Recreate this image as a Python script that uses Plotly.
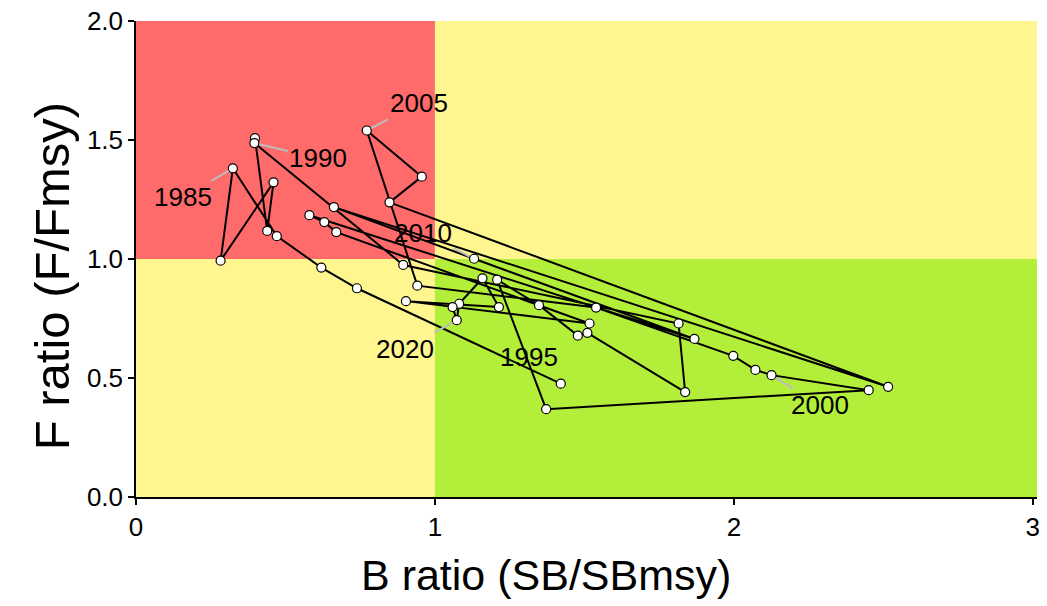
import plotly.graph_objects as go

# Stock status trajectory (Kobe plot), one point per year
years = list(range(1981, 2022))
b_ratio = [1.421, 0.739, 0.620, 0.471, 0.324, 0.283, 0.460, 0.439, 0.398, 0.396,
           0.894, 1.815, 1.837, 1.510, 1.478, 1.348, 1.208, 1.372, 2.451, 2.126,
           2.072, 1.998, 1.539, 0.941, 0.772, 0.956, 0.848, 2.516, 0.662, 1.131,
           1.868, 0.580, 0.630, 0.670, 1.517, 0.903, 1.214, 1.159, 1.081, 1.073,
           1.059]
f_ratio = [0.476, 0.877, 0.964, 1.096, 1.381, 0.993, 1.322, 1.118, 1.508, 1.487,
           0.975, 0.729, 0.441, 0.690, 0.678, 0.806, 0.913, 0.369, 0.449, 0.512,
           0.534, 0.593, 0.796, 0.888, 1.540, 1.346, 1.238, 0.463, 1.218, 1.001,
           0.664, 1.184, 1.155, 1.113, 0.729, 0.823, 0.798, 0.919, 0.812, 0.743,
           0.798]
label_years = [1985, 1990, 1995, 2000, 2005, 2010, 2020]

# label placement: pixel offset of text from its point, and whether a leader is drawn
label_offsets = {1985: (-50, 29), 1990: (64, 15), 1995: (-49, 21), 2000: (48, 30),
                 2005: (52, -27), 2010: (-51, -26), 2020: (-52, 29)}
no_leader = {1995}

X_MAX = 3.014
RED, YELLOW, GREEN = "#FF6A6A", "#FFF68F", "#B3EE3A"
FONT = "Liberation Sans, Arial"

fig = go.Figure()

zones = [
    (0, 1, 1, 2, RED),
    (1, X_MAX, 1, 2, YELLOW),
    (0, 1, 0, 1, YELLOW),
    (1, X_MAX, 0, 1, GREEN),
]
for x0, x1, y0, y1, c in zones:
    fig.add_shape(type="rect", xref="x", yref="y", x0=x0, x1=x1, y0=y0, y1=y1,
                  fillcolor=c, line_width=0, layer="below")

fig.add_trace(go.Scatter(
    x=b_ratio, y=f_ratio, mode="lines+markers",
    line=dict(color="black", width=2),
    marker=dict(size=9, color="white", line=dict(color="black", width=1.2)),
    hoverinfo="skip", showlegend=False,
))

for yr in label_years:
    i = years.index(yr)
    dx, dy = label_offsets[yr]
    if yr in no_leader:
        fig.add_annotation(
            x=b_ratio[i], y=f_ratio[i], xref="x", yref="y",
            text=str(yr), showarrow=False, xshift=dx, yshift=-dy,
            font=dict(family=FONT, size=26, color="black"),
        )
    else:
        fig.add_annotation(
            x=b_ratio[i], y=f_ratio[i], xref="x", yref="y",
            text=str(yr), showarrow=True, ax=dx, ay=dy,
            arrowhead=0, arrowwidth=2, arrowcolor="#BDBDBD", standoff=5,
            font=dict(family=FONT, size=26, color="black"),
        )

axis_common = dict(
    showgrid=False, zeroline=False, showline=True, linecolor="black", linewidth=1.5,
    ticks="outside", ticklen=6, tickwidth=1.5, tickcolor="black",
    tickfont=dict(family=FONT, size=26, color="black"),
)
fig.update_xaxes(range=[0, X_MAX], tickvals=[0, 1, 2, 3], **axis_common)
fig.update_yaxes(range=[0, 2], tickvals=[0, 0.5, 1.0, 1.5, 2.0],
                 ticktext=["0.0", "0.5", "1.0", "1.5", "2.0"], **axis_common)

fig.add_annotation(text="B ratio (SB/SBmsy)", xref="paper", yref="paper",
                   x=(548 - 136) / 904.5, y=-(575 - 497) / 478, showarrow=False,
                   xanchor="center", yanchor="middle",
                   font=dict(family=FONT, size=43, color="black"))
fig.add_annotation(text="F ratio (F/Fmsy)", xref="paper", yref="paper",
                   x=-(136 - 52) / 904.5, y=(497 - 275) / 478, showarrow=False,
                   textangle=-90, xanchor="center", yanchor="middle",
                   font=dict(family=FONT, size=49, color="black"))

fig.update_layout(
    width=1047, height=606,
    margin=dict(l=136, r=1047 - 1040.5, t=19, b=606 - 497),
    plot_bgcolor="white", paper_bgcolor="white",
)

fig.write_html("out.html")
